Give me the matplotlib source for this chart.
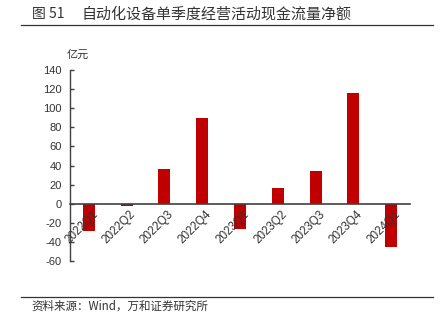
import matplotlib
matplotlib.use("Agg")
import matplotlib.pyplot as plt
import matplotlib.transforms as mtransforms
from matplotlib.lines import Line2D

plt.rcParams['font.family'] = ['Liberation Sans', 'Noto Sans CJK SC', 'DejaVu Sans']
plt.rcParams['axes.unicode_minus'] = True

quarters = ["2022Q1", "2022Q2", "2022Q3", "2022Q4", "2023Q1",
            "2023Q2", "2023Q3", "2023Q4", "2024Q1"]
net_cash_flow = [-28, -2, 36, 90, -26, 16, 34, 116, -45]
y_ticks = [-60, -40, -20, 0, 20, 40, 60, 80, 100, 120, 140]

figure_no = "图 51"
title_text = "自动化设备单季度经营活动现金流量净额"
unit_text = "亿元"
source_text = "资料来源：Wind，万和证券研究所"

bar_color = "#C00000"
axis_color = "#404040"
text_color = "#333333"
cjk = ['Noto Sans CJK SC', 'DejaVu Sans']

fig = plt.figure(figsize=(4.4, 3.22), dpi=100)
ax = fig.add_axes([0.159, 0.189, 0.773, 0.594])
ax.set_axisbelow(False)

x = list(range(len(quarters)))
ax.bar(x, net_cash_flow, width=0.32, color=bar_color, zorder=1)

ax.set_xlim(-0.5, len(quarters) - 0.5)
ax.set_ylim(-60, 140)
ax.set_yticks(y_ticks)
ax.set_yticklabels([str(v) for v in y_ticks], fontsize=8, color=text_color)

for side in ("top", "right"):
    ax.spines[side].set_visible(False)
ax.spines["left"].set_color(axis_color)
ax.spines["left"].set_linewidth(1.0)
ax.spines["bottom"].set_position(("data", 0))
ax.spines["bottom"].set_color(axis_color)
ax.spines["bottom"].set_linewidth(1.2)
ax.spines["bottom"].set_zorder(3)

ax.tick_params(axis="y", direction="in", length=3, width=1, color=axis_color, pad=6)
ax.tick_params(axis="x", length=0, pad=3)

ax.set_xticks(x)
labels = ax.set_xticklabels(quarters, fontsize=8.4, color=text_color,
                            rotation=45, ha="right", va="top",
                            rotation_mode="anchor")
offset = mtransforms.ScaledTranslation(3 / 100, 0, fig.dpi_scale_trans)
for lab in labels:
    lab.set_transform(lab.get_transform() + offset)
    lab.set_zorder(5)

fig.text(32 / 440, 1 - 14 / 322, figure_no, fontsize=10, color=text_color,
         va="center", ha="left", family=cjk)
fig.text(82 / 440, 1 - 14 / 322, title_text, fontsize=10.8, color=text_color,
         va="center", ha="left", family=cjk)
fig.add_artist(Line2D([21 / 440, 433 / 440], [1 - 24.5 / 322, 1 - 24.5 / 322],
                      color="#333333", linewidth=0.9, transform=fig.transFigure))

fig.text(78 / 440, 1 - 55 / 322, unit_text, fontsize=8, color=text_color,
         va="center", ha="center", family=cjk)

fig.add_artist(Line2D([21 / 440, 433 / 440], [1 - 296.5 / 322, 1 - 296.5 / 322],
                      color="#333333", linewidth=0.9, transform=fig.transFigure))
fig.text(31 / 440, 1 - 306 / 322, source_text, fontsize=8.3, color=text_color,
         va="center", ha="left", family=cjk)

fig.savefig("out.png", dpi=100)
